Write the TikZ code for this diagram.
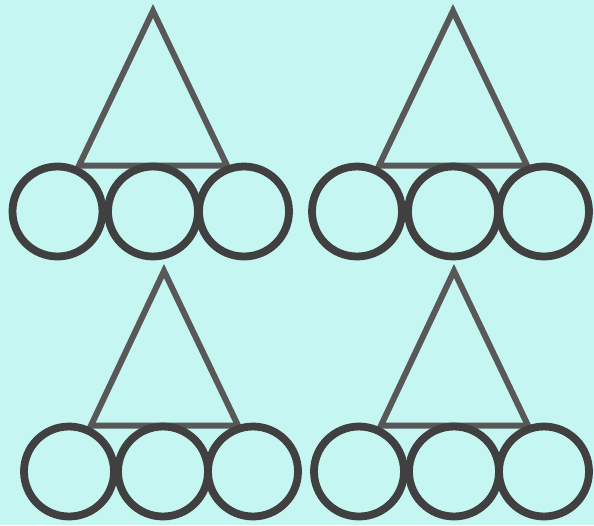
\documentclass[tikz,border=0pt]{standalone}
\usepackage{tikz}
\usetikzlibrary{positioning, calc}

\definecolor{bgcyan}{HTML}{C5F6F1}
\definecolor{trigray}{HTML}{585858}
\definecolor{ringgray}{HTML}{404040}

\begin{document}
\begin{tikzpicture}[
    x=1pt, y=-1pt,
    % Triangle outline
    tri/.style={draw=trigray, line width=6pt, line join=miter},
    % Circle nodes under each triangle
    ring/.style={
        circle, draw=ringgray, line width=7.8pt,
        minimum size=90pt, inner sep=0pt
    },
]

% Background and frame
\fill[bgcyan] (0,0) rectangle (594,525);
\useasboundingbox (0,0) rectangle (594,525);

% ===== TOP LEFT GROUP =====
\coordinate (A-top) at (153,11);
\coordinate (A-bl) at (79,165.5);
\coordinate (A-br) at (227,165.5);
\draw[tri] (A-top) -- (A-bl) -- (A-br) -- cycle;

\node[ring] (A-c1) at (57.5,211.5) {};
\node[ring] (A-c2) at (153,211.5) {};
\node[ring] (A-c3) at (244,211.5) {};

% ===== TOP RIGHT GROUP =====
\coordinate (B-top) at (453,11);
\coordinate (B-bl) at (379,165.5);
\coordinate (B-br) at (527,165.5);
\draw[tri] (B-top) -- (B-bl) -- (B-br) -- cycle;

\node[ring] (B-c1) at (357,211.5) {};
\node[ring] (B-c2) at (453,211.5) {};
\node[ring] (B-c3) at (544,211.5) {};

% ===== BOTTOM LEFT GROUP =====
\coordinate (C-top) at (164,271);
\coordinate (C-bl) at (91,425.5);
\coordinate (C-br) at (238,425.5);
\draw[tri] (C-top) -- (C-bl) -- (C-br) -- cycle;

\node[ring] (C-c1) at (69,471.5) {};
\node[ring] (C-c2) at (163,471.5) {};
\node[ring] (C-c3) at (253,471.5) {};

% ===== BOTTOM RIGHT GROUP =====
\coordinate (D-top) at (454,271);
\coordinate (D-bl) at (381,425.5);
\coordinate (D-br) at (528,425.5);
\draw[tri] (D-top) -- (D-bl) -- (D-br) -- cycle;

\node[ring] (D-c1) at (359,471.5) {};
\node[ring] (D-c2) at (454,471.5) {};
\node[ring] (D-c3) at (544,471.5) {};

\end{tikzpicture}
\end{document}
